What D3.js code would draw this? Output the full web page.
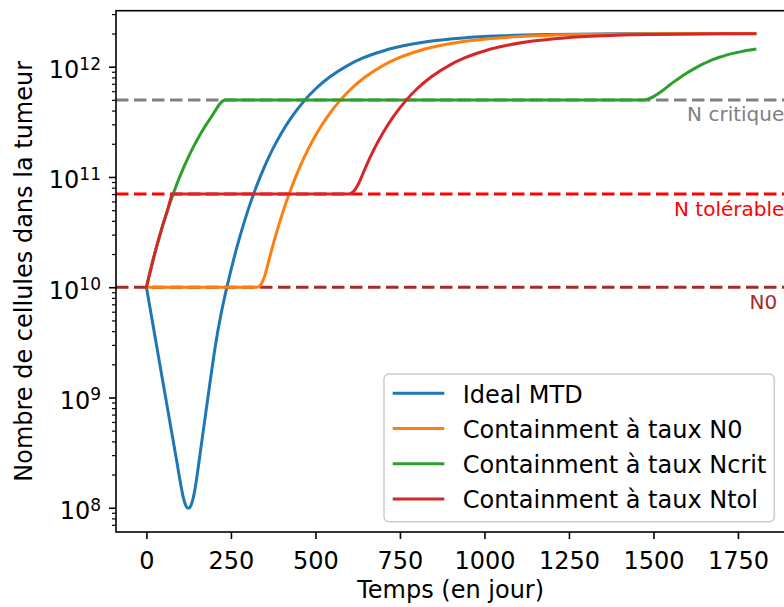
<!DOCTYPE html>
<html><head><meta charset="utf-8">
<script src="https://cdn.jsdelivr.net/npm/d3@7"></script>
<style>
body{margin:0;background:#fff}
svg{display:block;font-family:"DejaVu Sans",sans-serif}
</style>
</head><body>
<svg id="c" width="784" height="607"></svg>
<script>
// ---------------- data ----------------
const seriesNames = ["Ideal MTD", "Containment à taux N0", "Containment à taux Ncrit", "Containment à taux Ntol"];

const tMTD = [0, 15, 30, 45, 60, 75, 90, 104, 109.6, 115.1, 120.7, 126.3, 131.8, 137.4, 142.9, 148.5, 162, 175.4, 190, 204, 220, 238, 260, 276, 300, 325, 350, 375, 400, 430, 468, 500, 542, 600, 641, 700, 740, 838, 937, 1050, 1200, 1400, 1800];
const nMTD = [1.0e10, 5.45e9, 2.96e9, 1.61e9, 8.79e8, 4.79e8, 2.61e8, 1.48e8, 1.22e8, 1.07e8, 9.98e7, 9.93e7, 1.05e8, 1.19e8, 1.43e8, 1.84e8, 3.64e8, 7.18e8, 1.50e9, 2.95e9, 5.56e9, 1.0e10, 1.887e10, 2.85e10, 4.95e10, 8.16e10, 1.256e11, 1.825e11, 2.52e11, 3.51e11, 4.95e11, 6.28e11, 8.06e11, 1.045e12, 1.20e12, 1.39e12, 1.50e12, 1.70e12, 1.824e12, 1.906e12, 1.96e12, 1.99e12, 2.0e12];

const tN0 = [0, 328, 335.5, 343, 350.5, 358, 365, 381, 405, 430, 455, 480, 505, 535, 573, 605, 647, 705, 746, 805, 845, 943, 1042, 1155, 1305, 1505, 1800];
const nN0 = [1.0e10, 1.0e10, 1.03e10, 1.12e10, 1.28e10, 1.56e10, 1.887e10, 2.85e10, 4.95e10, 8.16e10, 1.256e11, 1.825e11, 2.52e11, 3.51e11, 4.95e11, 6.28e11, 8.06e11, 1.045e12, 1.20e12, 1.39e12, 1.50e12, 1.70e12, 1.824e12, 1.906e12, 1.96e12, 1.99e12, 2.0e12];

const tNcrit = [0, 22, 38, 62, 79, 87, 112, 137, 162, 192, 233, 1469, 1485, 1500, 1520, 1540, 1560, 1580, 1600, 1625, 1650, 1675, 1700, 1725, 1750, 1775, 1800];
const nNcrit = [1.0e10, 1.887e10, 2.85e10, 4.95e10, 6.97e10, 8.16e10, 1.256e11, 1.825e11, 2.52e11, 3.51e11, 5.0e11, 5.0e11, 5.1e11, 5.35e11, 5.86e11, 6.53e11, 7.28e11, 8.04e11, 8.81e11, 9.77e11, 1.07e12, 1.16e12, 1.23e12, 1.30e12, 1.35e12, 1.40e12, 1.44e12];

const tNtol = [0, 22, 38, 62, 79, 597, 606.5, 616, 625.5, 635, 650, 675, 700, 730, 768, 800, 842, 900, 941, 1000, 1040, 1138, 1237, 1350, 1500, 1700, 1800];
const nNtol = [1.0e10, 1.887e10, 2.85e10, 4.95e10, 7.0e10, 7.0e10, 7.14e10, 7.6e10, 8.45e10, 9.77e10, 1.256e11, 1.825e11, 2.52e11, 3.51e11, 4.95e11, 6.28e11, 8.06e11, 1.045e12, 1.20e12, 1.39e12, 1.50e12, 1.70e12, 1.824e12, 1.906e12, 1.96e12, 1.99e12, 1.995e12];

const thresholdNames = ["N critique", "N tolérable", "N0"];
const thresholdValues = [5e11, 7e10, 1e10];
const thresholdLabelX = [1887, 1887, 1866];

const xTicks = [0, 250, 500, 750, 1000, 1250, 1500, 1750];
const yTicks = [1e8, 1e9, 1e10, 1e11, 1e12];
const yTickExp = ["8", "9", "10", "11", "12"];
const xLabel = "Temps (en jour)";
const yLabel = "Nombre de cellules dans la tumeur";

// ---------------- styles / layout ----------------
const seriesColors = ["#1f77b4", "#ff7f0e", "#2ca02c", "#d62728"];
const thresholdColors = ["#808080", "#ff0000", "#a52a2a"];
const L = 116, R = 785.3, T = 10.7, B = 532;

const svg = d3.select("#c");
const x = d3.scaleLinear().domain([-90, 1890]).range([L, R]);
const y = d3.scaleLog().domain([Math.pow(10, 7.78), Math.pow(10, 12.508)]).range([B, T]);

svg.append("defs").append("clipPath").attr("id", "clip")
  .append("rect").attr("x", L).attr("y", T).attr("width", R - L).attr("height", B - T);

const plot = svg.append("g").attr("clip-path", "url(#clip)");

// threshold dashed lines
thresholdValues.forEach((v, i) => {
  plot.append("line")
    .attr("x1", L).attr("x2", R)
    .attr("y1", y(v)).attr("y2", y(v))
    .attr("stroke", thresholdColors[i]).attr("stroke-width", 3)
    .attr("stroke-dasharray", "12.5,5.5");
});

// curves
const series = [
  {t: tMTD, n: nMTD},
  {t: tN0, n: nN0},
  {t: tNcrit, n: nNcrit},
  {t: tNtol, n: nNtol}
];
const line = d3.line().x(d => x(d[0])).y(d => y(d[1])).curve(d3.curveMonotoneX);
series.forEach((s, i) => {
  const pts = s.t.map((t, k) => [t, s.n[k]]);
  plot.append("path").datum(pts)
    .attr("d", line).attr("fill", "none")
    .attr("stroke", seriesColors[i]).attr("stroke-width", 3)
    .attr("stroke-linejoin", "round").attr("stroke-linecap", "square");
});

// threshold labels
thresholdNames.forEach((name, i) => {
  svg.append("text")
    .attr("x", x(thresholdLabelX[i])).attr("y", y(thresholdValues[i]) + 21.5)
    .attr("text-anchor", "end").attr("font-size", 20)
    .attr("fill", thresholdColors[i]).text(name);
});

// axes
const xAxis = svg.append("g").attr("transform", `translate(0,${B})`)
  .call(d3.axisBottom(x).tickValues(xTicks).tickSize(7).tickSizeOuter(0).tickPadding(13).tickFormat(d3.format("d")));
xAxis.selectAll("text").attr("font-size", 24).attr("font-family", "DejaVu Sans").attr("fill", "#000");
xAxis.selectAll("line").attr("stroke", "#000").attr("stroke-width", 1.6);
xAxis.select(".domain").remove();

const yMinor = [];
for (let e = 7; e <= 12; e++) for (let m = 2; m <= 9; m++) {
  const v = m * Math.pow(10, e);
  if (v >= y.domain()[0] && v <= y.domain()[1]) yMinor.push(v);
}
const yAxisMinor = svg.append("g").attr("transform", `translate(${L},0)`)
  .call(d3.axisLeft(y).tickValues(yMinor).tickSize(4).tickSizeOuter(0).tickFormat(""));
yAxisMinor.selectAll("line").attr("stroke", "#000").attr("stroke-width", 1.2);
yAxisMinor.select(".domain").remove();

const yAxis = svg.append("g").attr("transform", `translate(${L},0)`)
  .call(d3.axisLeft(y).tickValues(yTicks).tickSize(7).tickSizeOuter(0).tickFormat(""));
yAxis.selectAll("line").attr("stroke", "#000").attr("stroke-width", 1.6);
yAxis.select(".domain").remove();

yTicks.forEach((v, i) => {
  const t = svg.append("text").attr("x", L - 15).attr("y", y(v) + 11.5)
    .attr("text-anchor", "end").attr("font-size", 24).attr("fill", "#000");
  t.append("tspan").text("10");
  t.append("tspan").attr("dy", -8.5).attr("font-size", 17).text(yTickExp[i]);
});

// spines
svg.append("rect").attr("x", L).attr("y", T).attr("width", R - L).attr("height", B - T)
  .attr("fill", "none").attr("stroke", "#000").attr("stroke-width", 1.6);

// axis labels
svg.append("text").attr("x", (L + R) / 2).attr("y", 598)
  .attr("text-anchor", "middle").attr("font-size", 24).attr("fill", "#000").text(xLabel);
svg.append("text").attr("transform", `translate(31.5,${(T + B) / 2}) rotate(-90)`)
  .attr("text-anchor", "middle").attr("font-size", 24).attr("fill", "#000").text(yLabel);

// legend
const lg = svg.append("g");
lg.append("rect").attr("x", 384).attr("y", 374).attr("width", 390.3).attr("height", 147.7)
  .attr("rx", 5).attr("fill", "#fff").attr("fill-opacity", 0.8)
  .attr("stroke", "#cccccc").attr("stroke-width", 1.5);
seriesNames.forEach((name, i) => {
  const yy = 393.3 + i * 35.2;
  lg.append("line").attr("x1", 392.7).attr("x2", 444.3).attr("y1", yy).attr("y2", yy)
    .attr("stroke", seriesColors[i]).attr("stroke-width", 3);
  lg.append("text").attr("x", 462.7).attr("y", yy + 9.5).attr("font-size", 24)
    .attr("fill", "#000").text(name);
});
</script>
</body></html>
